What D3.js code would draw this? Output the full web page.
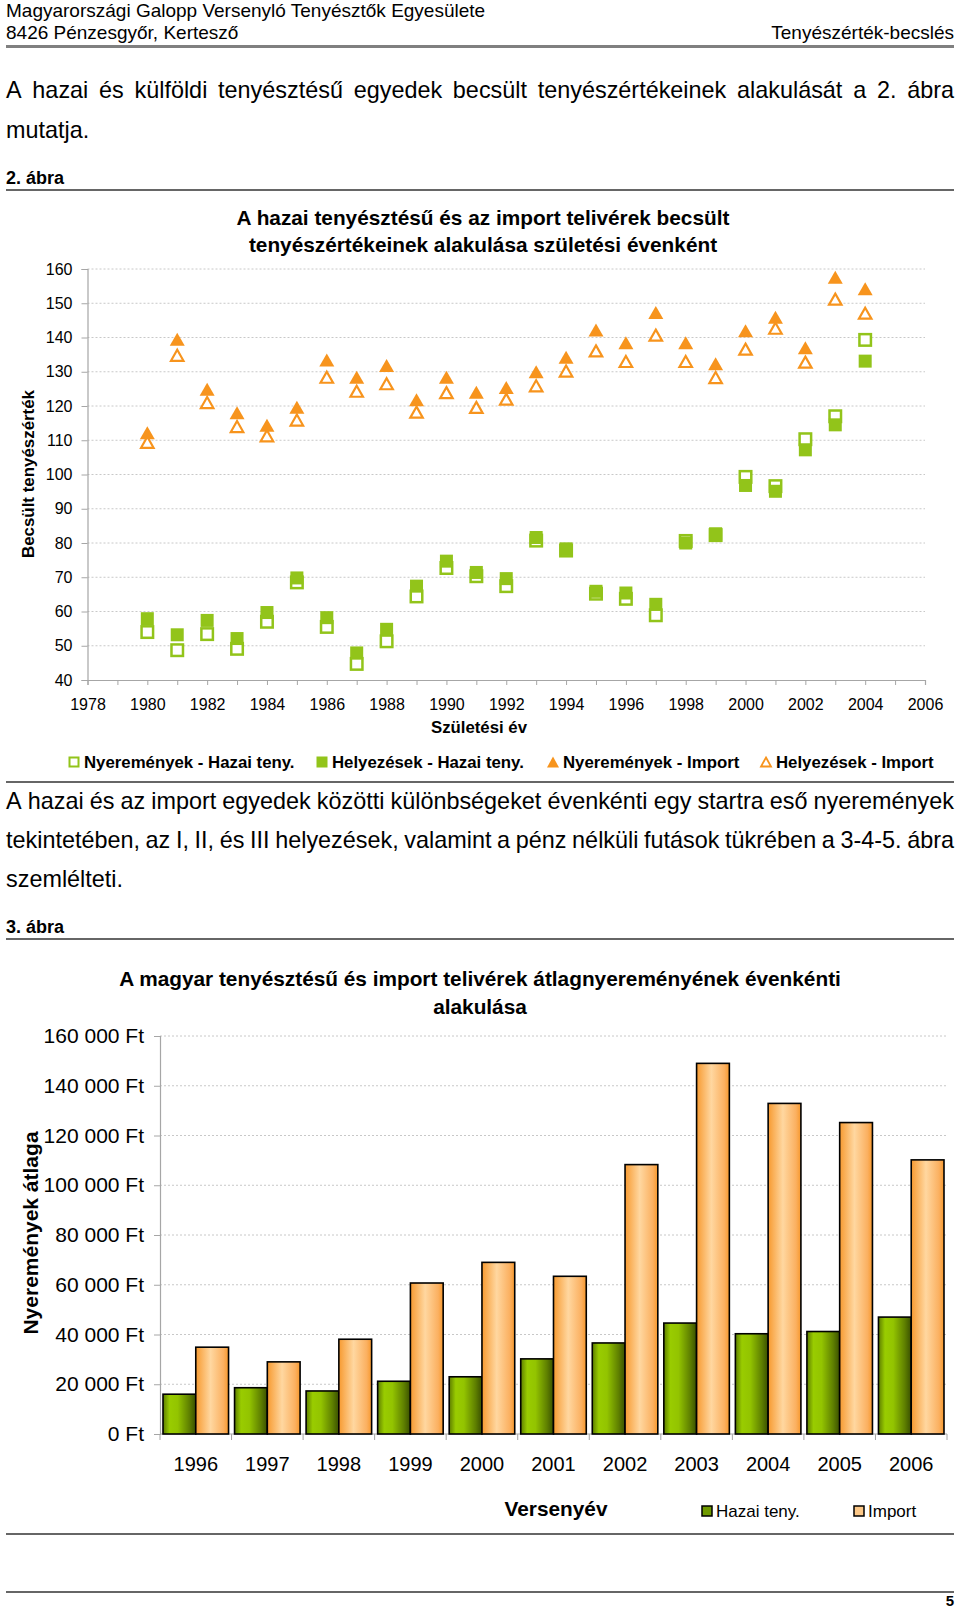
<!DOCTYPE html>
<html><head><meta charset="utf-8">
<script src="https://cdn.jsdelivr.net/npm/d3@7"></script>
<style>
html,body{margin:0;padding:0;background:#fff;}
svg{display:block;}
text{font-family:'Liberation Sans',Arial,sans-serif;fill:#000;}
</style></head>
<body>
<svg id="page" width="960" height="1611"></svg>
<script>
// ---------- DATA ----------
const years1 = [1980,1981,1982,1983,1984,1985,1986,1987,1988,1989,1990,1991,1992,1993,1994,1995,1996,1997,1998,1999,2000,2001,2002,2003,2004];
const nyerHazai  = [54.0,48.7,53.4,49.1,57.0,68.5,55.5,44.7,51.3,64.4,72.7,70.3,67.4,80.7,77.8,65.2,63.7,58.9,80.6,82.3,99.3,96.6,110.3,117.0,139.3];
const helyHazai  = [57.9,53.2,57.4,52.1,59.7,69.8,58.2,47.9,54.8,67.4,74.7,71.4,69.6,81.6,78.3,65.9,65.4,62.1,80.0,82.7,96.8,95.1,107.2,114.5,133.1];
const nyerImport = [112.2,139.5,124.9,118.0,114.4,119.6,133.4,128.4,131.8,121.8,128.4,124.0,125.4,130.0,134.2,142.2,138.5,147.3,138.5,132.3,142.0,145.9,137.0,157.6,154.2];
const helyImport = [109.4,134.8,121.0,114.0,111.3,115.9,128.4,124.3,126.5,118.2,123.9,119.6,122.0,125.9,130.2,136.1,133.0,140.7,133.0,128.3,136.6,142.7,132.8,151.2,147.1];
const yTicks1 = [40,50,60,70,80,90,100,110,120,130,140,150,160];
const xTicks1 = [1978,1980,1982,1984,1986,1988,1990,1992,1994,1996,1998,2000,2002,2004,2006];
const legend1 = ["Nyeremények - Hazai teny.","Helyezések - Hazai teny.","Nyeremények - Import","Helyezések - Import"];

const years2 = ["1996","1997","1998","1999","2000","2001","2002","2003","2004","2005","2006"];
const hazai2  = [16000,18600,17300,21200,23000,30200,36600,44600,40300,41200,47000];
const import2 = [34900,29000,38100,60700,69000,63400,108300,149000,132900,125200,110200];
const yTicks2 = [0,20000,40000,60000,80000,100000,120000,140000,160000];
const series2 = ["Hazai teny.","Import"];

const para1 = ["A hazai és külföldi tenyésztésű egyedek becsült tenyészértékeinek alakulását a 2. ábra","mutatja."];
const para2 = ["A hazai és az import egyedek közötti különbségeket évenkénti egy startra eső nyeremények","tekintetében, az I, II, és III helyezések, valamint a pénz nélküli futások tükrében a 3-4-5. ábra","szemlélteti."];

// ---------- COLORS ----------
const GREEN = "#92C41A", ORANGE = "#F7941D";
const FF = "'Liberation Sans',Arial,sans-serif";

const svg = d3.select("#page");
const defs = svg.append("defs");

function txt(x,y,s,size,opts={}){
  const t = svg.append("text").attr("x",x).attr("y",y).attr("font-size",size).text(s);
  if(opts.bold) t.attr("font-weight","bold");
  if(opts.anchor) t.attr("text-anchor",opts.anchor);
  return t;
}
function rule(y,w,c,x1=6,x2=954){
  svg.append("line").attr("x1",x1).attr("x2",x2).attr("y1",y).attr("y2",y).attr("stroke",c).attr("stroke-width",w);
}
function justify(line,y,size,x1,x2,full){
  const words = line.split(" ");
  const g = svg.append("g");
  const nodes = words.map(w=>g.append("text").attr("y",y).attr("font-size",size).text(w));
  const widths = nodes.map(n=>n.node().getComputedTextLength());
  const total = d3.sum(widths);
  const gap = full ? (x2-x1-total)/(words.length-1) : size*0.278;
  let x = x1;
  nodes.forEach((n,i)=>{ n.attr("x",x); x += widths[i]+gap; });
}

// ---------- HEADER ----------
txt(6,17,"Magyarországi Galopp Versenyló Tenyésztők Egyesülete",19);
txt(6,39,"8426 Pénzesgyőr, Kertesző",19);
txt(954,39,"Tenyészérték-becslés",19,{anchor:"end"});
rule(46.5,3,"#808080");

const PS = 23.4;
justify(para1[0],98,PS,6,954,true);
justify(para1[1],138,PS,6,954,false);
txt(6,184,"2. ábra",18,{bold:true});
rule(190,1.5,"#333");

// ---------- CHART 1 ----------
const x1s = d3.scaleLinear().domain([1978,2006]).range([87.5,925]);
const y1s = d3.scaleLinear().domain([40,160]).range([680,269]);
const c1 = svg.append("g");

txt(483,225,"A hazai tenyésztésű és az import telivérek becsült",20.8,{bold:true,anchor:"middle"});
txt(483,252,"tenyészértékeinek alakulása születési évenként",20.8,{bold:true,anchor:"middle"});

// grid
c1.selectAll("line.grid").data(yTicks1.filter(d=>d>40)).join("line")
  .attr("x1",87.5).attr("x2",925).attr("y1",d=>y1s(d)).attr("y2",d=>y1s(d))
  .attr("stroke","#c8c8c8").attr("stroke-dasharray","2,2");
// axes
const ya1 = c1.append("g").attr("transform","translate(87.5,0)")
  .call(d3.axisLeft(y1s).tickValues(yTicks1).tickSize(6).tickPadding(9).tickFormat(d3.format("d")));
const xa1 = c1.append("g").attr("transform","translate(0,680)")
  .call(d3.axisBottom(x1s).tickValues(d3.range(1978,2007)).tickSize(5).tickFormat(d=>xTicks1.includes(d)?String(d):""));
[ya1,xa1].forEach(a=>{
  a.select(".domain").attr("stroke","#a6a6a6").attr("stroke-width",1.2);
  a.selectAll(".tick line").attr("stroke","#a6a6a6");
  a.selectAll("text").attr("font-size",16).attr("font-family",FF).attr("fill","#000");
});
xa1.selectAll("text").attr("y",24).attr("dy","0.35em");

txt(28,474,"Becsült tenyészérték",16.9,{bold:true,anchor:"middle"}).attr("transform","rotate(-90,28,474)").attr("dy","0.35em");
txt(479,733,"Születési év",16.8,{bold:true,anchor:"middle"});

const triUp = (cx,cy,w,h)=>`M${cx},${cy-h/2}L${cx+w/2},${cy+h/2}L${cx-w/2},${cy+h/2}Z`;
const S = 14;
// open squares (Nyeremények - Hazai)
c1.selectAll("rect.nh").data(years1).join("rect")
  .attr("x",(d)=>x1s(d)-S/2+1.25).attr("y",(d,i)=>y1s(nyerHazai[i])-S/2+1.25)
  .attr("width",S-2.5).attr("height",S-2.5).attr("fill","#fff").attr("stroke",GREEN).attr("stroke-width",2.5);
// filled squares (Helyezések - Hazai)
c1.selectAll("rect.hh").data(years1).join("rect")
  .attr("x",(d)=>x1s(d)-S/2+0.5).attr("y",(d,i)=>y1s(helyHazai[i])-S/2+0.5)
  .attr("width",S-1).attr("height",S-1).attr("fill",GREEN);
// filled triangles (Nyeremények - Import)
c1.selectAll("path.ni").data(years1).join("path")
  .attr("d",(d,i)=>triUp(x1s(d),y1s(nyerImport[i]),15,13)).attr("fill",ORANGE);
// open triangles (Helyezések - Import)
c1.selectAll("path.hi").data(years1).join("path")
  .attr("d",(d,i)=>triUp(x1s(d),y1s(helyImport[i]),12.5,11)).attr("fill","#fff").attr("stroke",ORANGE).attr("stroke-width",2.2).attr("stroke-linejoin","miter");

// legend 1
const lgX = [74,322,553,766];
const lgY = 762;
const lg = svg.append("g");
lgX.forEach((x,i)=>{
  if(i===0) lg.append("rect").attr("x",x-4.5).attr("y",lgY-4.5).attr("width",9).attr("height",9).attr("fill","#fff").attr("stroke",GREEN).attr("stroke-width",2);
  if(i===1) lg.append("rect").attr("x",x-5.5).attr("y",lgY-5.5).attr("width",11).attr("height",11).attr("fill",GREEN);
  if(i===2) lg.append("path").attr("d",triUp(x,lgY,12,11)).attr("fill",ORANGE);
  if(i===3) lg.append("path").attr("d",triUp(x,lgY,10,9)).attr("fill","#fff").attr("stroke",ORANGE).attr("stroke-width",1.8);
  lg.append("text").attr("x",x+10).attr("y",lgY+6).attr("font-size",16.8).attr("font-weight","bold").text(legend1[i]);
});
rule(782,1.5,"#333");

justify(para2[0],809,PS,6,954,true);
justify(para2[1],848,PS,6,954,true);
justify(para2[2],887,PS,6,954,false);
txt(6,933,"3. ábra",18,{bold:true});
rule(939,1.5,"#333");

// ---------- CHART 2 ----------
const gG = defs.append("linearGradient").attr("id","gGreen").attr("x1","0").attr("x2","1").attr("y1","0").attr("y2","0");
[[0,"#5d7d00"],[0.2,"#99cc00"],[0.45,"#93c400"],[0.8,"#5f8000"],[1,"#3a5000"]].forEach(([o,c])=>gG.append("stop").attr("offset",o).attr("stop-color",c));
const gO = defs.append("linearGradient").attr("id","gOrange").attr("x1","0").attr("x2","1").attr("y1","0").attr("y2","0");
[[0,"#f79a30"],[0.45,"#ffd7a0"],[0.85,"#fbb060"],[1,"#f7982c"]].forEach(([o,c])=>gO.append("stop").attr("offset",o).attr("stop-color",c));
const fills2 = ["url(#gGreen)","url(#gOrange)"];

const x0 = d3.scaleBand().domain(years2).range([160,947]).paddingInner(0.084).paddingOuter(0.042);
const xb = d3.scaleBand().domain(series2).range([0,x0.bandwidth()]);
const y2s = d3.scaleLinear().domain([0,160000]).range([1434,1036]);
const c2 = svg.append("g");

txt(480,986,"A magyar tenyésztésű és import telivérek átlagnyereményének évenkénti",20.8,{bold:true,anchor:"middle"});
txt(480,1014,"alakulása",20.8,{bold:true,anchor:"middle"});

c2.selectAll("line.grid").data(yTicks2.filter(d=>d>0)).join("line")
  .attr("x1",160).attr("x2",947).attr("y1",d=>y2s(d)).attr("y2",d=>y2s(d))
  .attr("stroke","#c8c8c8").attr("stroke-dasharray","2,2");

const ya2 = c2.append("g").attr("transform","translate(160,0)")
  .call(d3.axisLeft(y2s).tickValues(yTicks2).tickSize(6).tickPadding(10).tickFormat(d=>d3.format(",")(d).replace(/,/g," ")+" Ft"));
ya2.select(".domain").attr("stroke","#a6a6a6").attr("stroke-width",1.2);
ya2.selectAll(".tick line").attr("stroke","#a6a6a6");
ya2.selectAll("text").attr("font-size",21).attr("font-family",FF).attr("fill","#000");

// x axis baseline and boundary ticks
c2.append("line").attr("x1",160).attr("x2",947).attr("y1",1434).attr("y2",1434).attr("stroke","#a6a6a6").attr("stroke-width",1.2);
c2.selectAll("line.xt").data(years2).join("line")
  .attr("x1",d=>x0(d)-x0.step()*0.042).attr("x2",d=>x0(d)-x0.step()*0.042)
  .attr("y1",1434).attr("y2",1440).attr("stroke","#a6a6a6");
c2.append("line").attr("x1",947).attr("x2",947).attr("y1",1434).attr("y2",1440).attr("stroke","#a6a6a6");
c2.selectAll("text.xl").data(years2).join("text")
  .attr("x",d=>x0(d)+x0.bandwidth()/2).attr("y",1471).attr("text-anchor","middle").attr("font-size",20).text(d=>d);

const groups = c2.selectAll("g.grp").data(years2).join("g").attr("transform",d=>`translate(${x0(d)},0)`);
groups.selectAll("rect").data((d,i)=>[{k:series2[0],v:hazai2[i],f:fills2[0]},{k:series2[1],v:import2[i],f:fills2[1]}]).join("rect")
  .attr("x",d=>xb(d.k)).attr("width",xb.bandwidth()).attr("y",d=>y2s(d.v)).attr("height",d=>y2s(0)-y2s(d.v))
  .attr("fill",d=>d.f).attr("stroke","#000").attr("stroke-width",1.6);

txt(31,1233,"Nyeremények átlaga",21,{bold:true,anchor:"middle"}).attr("transform","rotate(-90,31,1233)").attr("dy","0.35em");
txt(556,1516,"Versenyév",20.8,{bold:true,anchor:"middle"});

// legend 2
const lg2 = [[707,0],[859,1]];
lg2.forEach(([x,i])=>{
  svg.append("rect").attr("x",x-5).attr("y",1506).attr("width",10).attr("height",10).attr("fill",i===0?"#6f9a00":"#fcc888").attr("stroke","#000").attr("stroke-width",1.5);
  svg.append("text").attr("x",x+9).attr("y",1517).attr("font-size",17).text(series2[i]);
});

rule(1534,1.5,"#333");
rule(1592,1.5,"#333");
txt(954,1606,"5",15,{bold:true,anchor:"end"});
</script>
</body></html>
